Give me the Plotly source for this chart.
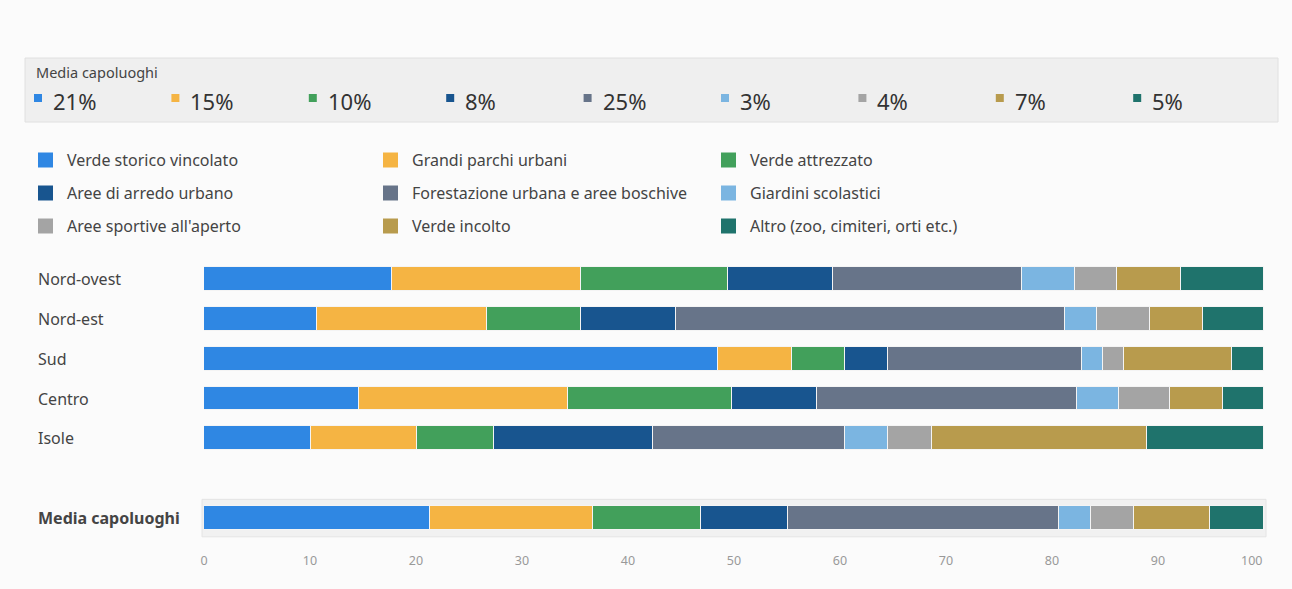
import plotly.graph_objects as go

# ---------------- data ----------------
categories = ["Verde storico vincolato", "Grandi parchi urbani", "Verde attrezzato",
              "Aree di arredo urbano", "Forestazione urbana e aree boschive", "Giardini scolastici",
              "Aree sportive all'aperto", "Verde incolto", "Altro (zoo, cimiteri, orti etc.)"]
regions = ["Nord-ovest", "Nord-est", "Sud", "Centro", "Isole", "Media capoluoghi"]
region_pos = [0, 1, 2, 3, 4, 6]

nord_ovest = [17.7, 17.9, 13.8, 9.9, 17.9, 5.0, 3.9, 6.1, 7.8]
nord_est   = [10.7, 16.0, 8.9, 8.9, 36.7, 3.0, 5.0, 5.0, 5.8]
sud        = [48.5, 7.0, 5.0, 4.0, 18.3, 2.0, 2.0, 10.2, 3.0]
centro     = [14.6, 19.7, 15.5, 8.0, 24.6, 3.9, 4.8, 5.0, 3.9]
isole      = [10.1, 10.0, 7.3, 15.0, 18.1, 4.0, 4.2, 20.3, 11.0]
media      = [21.3, 15.4, 10.2, 8.2, 25.6, 3.0, 4.0, 7.2, 5.1]
media_labels = ["21%", "15%", "10%", "8%", "25%", "3%", "4%", "7%", "5%"]
x_ticks = [0, 10, 20, 30, 40, 50, 60, 70, 80, 90, 100]

colors = ["#2f87e3", "#f5b443", "#42a05b", "#18558f", "#677489",
          "#7bb5e1", "#a4a4a4", "#b89b4d", "#1f736c"]

rows = [nord_ovest, nord_est, sud, centro, isole, media]

# ---------------- layout geometry ----------------
W, H = 1292, 589
L, R, T, B = 204, 28, 259, 51
PW, PH = W - L - R, H - T - B
FONT = "Noto Sans"
TXT = "#444444"


def px(x):
    return (x - L) / PW


def py(y):
    return (H - B - y) / PH


fig = go.Figure()
for i, cat in enumerate(categories):
    fig.add_trace(go.Bar(
        name=cat, orientation="h",
        y=region_pos, x=[r[i] for r in rows],
        marker=dict(color=colors[i], line=dict(color="#f4f4f4", width=1)),
        width=0.6, showlegend=False,
        hovertemplate="%{x}<extra>" + cat + "</extra>",
    ))

shapes = []
annotations = []

# top summary panel
shapes.append(dict(type="rect", xref="paper", yref="paper",
                   x0=px(25), x1=px(1278), y0=py(122), y1=py(58),
                   fillcolor="#efefef", line=dict(color="#e0e0e0", width=1), layer="below"))
annotations.append(dict(xref="paper", yref="paper", x=px(34), y=py(72), text="Media capoluoghi",
                        showarrow=False, xanchor="left", yanchor="middle",
                        font=dict(family=FONT, size=14.5, color=TXT)))
for i, lab in enumerate(media_labels):
    x0 = 34 + 137.4 * i
    shapes.append(dict(type="rect", xref="paper", yref="paper",
                       x0=px(x0), x1=px(x0 + 8), y0=py(102), y1=py(94),
                       fillcolor=colors[i], line=dict(width=0)))
    annotations.append(dict(xref="paper", yref="paper", x=px(x0 + 17), y=py(101), text=lab,
                            showarrow=False, xanchor="left", yanchor="middle",
                            font=dict(family=FONT, size=22, color="#333")))

# custom legend: 3 columns
col_x = [38, 383, 721]
row_y = [160, 193, 226]
for i, cat in enumerate(categories):
    cx = col_x[i % 3]
    cy = row_y[i // 3]
    shapes.append(dict(type="rect", xref="paper", yref="paper",
                       x0=px(cx), x1=px(cx + 15), y0=py(cy + 7.5), y1=py(cy - 7.5),
                       fillcolor=colors[i], line=dict(width=0)))
    annotations.append(dict(xref="paper", yref="paper", x=px(cx + 27), y=py(cy), text=cat,
                            showarrow=False, xanchor="left", yanchor="middle",
                            font=dict(family=FONT, size=16, color=TXT)))

# media box
shapes.append(dict(type="rect", xref="paper", yref="y",
                   x0=px(202), x1=px(1266), y0=5.53, y1=6.47,
                   fillcolor="#f1f1f1", line=dict(color="#e4e4e4", width=1), layer="below"))

# row labels (left aligned)
for name, pos in zip(regions, region_pos):
    txt = "<b>" + name + "</b>" if name == "Media capoluoghi" else name
    annotations.append(dict(xref="paper", yref="y", x=px(36), y=pos, text=txt,
                            showarrow=False, xanchor="left", yanchor="middle",
                            font=dict(family=FONT, size=16, color=TXT)))

# last x tick label is right-justified inside the plot
annotations.append(dict(xref="x", yref="paper", x=x_ticks[-1], y=py(560), text=str(x_ticks[-1]),
                        showarrow=False, xanchor="right", yanchor="middle",
                        font=dict(family=FONT, size=12.5, color="#999")))

fig.update_layout(
    barmode="stack",
    width=W, height=H,
    margin=dict(l=L, r=R, t=T, b=B),
    paper_bgcolor="#fbfbfb", plot_bgcolor="rgba(0,0,0,0)",
    font=dict(family=FONT),
    shapes=shapes, annotations=annotations,
    bargap=0,
)
fig.update_xaxes(range=[0, 100], tickvals=x_ticks[:-1], showgrid=False, zeroline=False,
                 showline=False, ticks="", ticklabelstandoff=13,
                 tickfont=dict(family=FONT, size=12.5, color="#999"))
fig.update_yaxes(range=[6.5, -0.5], showticklabels=False, showgrid=False,
                 zeroline=False, showline=False)

fig.write_html("out.html")
